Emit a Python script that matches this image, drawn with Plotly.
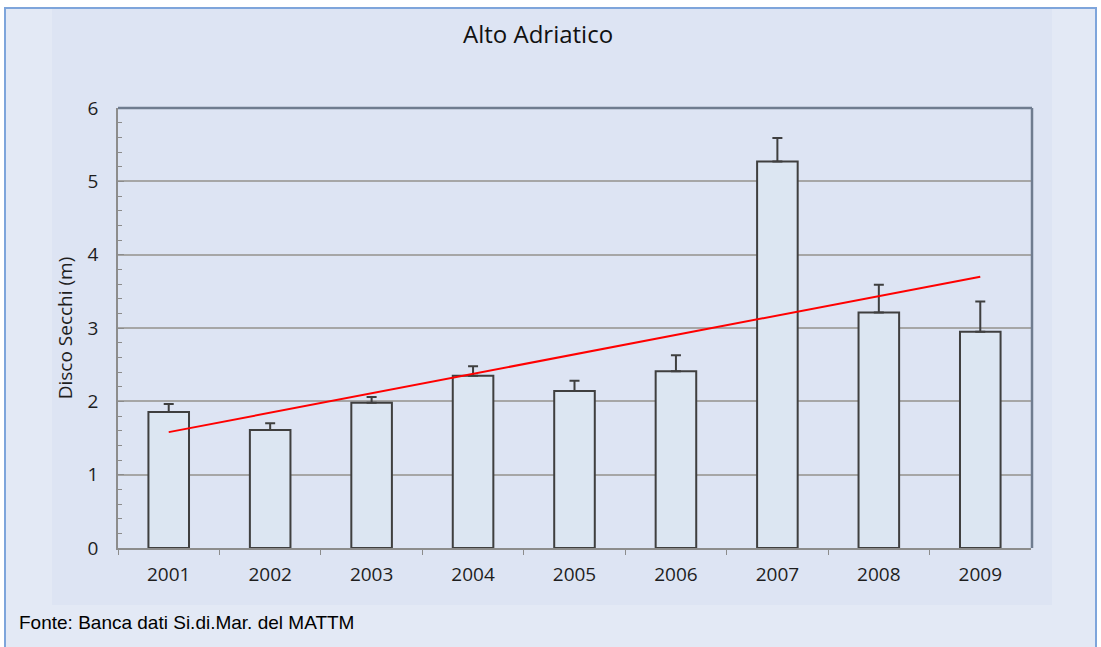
import plotly.graph_objects as go

years = ["2001", "2002", "2003", "2004", "2005", "2006", "2007", "2008", "2009"]
secchi = [1.855, 1.61, 1.98, 2.35, 2.14, 2.41, 5.27, 3.21, 2.95]
err_plus = [0.11, 0.09, 0.08, 0.13, 0.14, 0.22, 0.32, 0.38, 0.41]
trend_x = ["2001", "2009"]
trend_y = [1.58, 3.70]

W, H = 1101, 647

def px(x):
    return x / W

def py(y):
    return 1 - y / H

fig = go.Figure()
fig.add_trace(go.Bar(
    x=years, y=secchi, width=0.4,
    marker=dict(color="#dce6f2", line=dict(color="#3f3f3f", width=2)),
    error_y=dict(type="data", array=err_plus, arrayminus=[0]*len(err_plus), symmetric=False,
                 color="#3f3f3f", thickness=2, width=5),
    showlegend=False, hoverinfo="x+y",
))
fig.add_trace(go.Scatter(
    x=trend_x, y=trend_y, mode="lines",
    line=dict(color="#ff0000", width=2), showlegend=False,
))

shapes = [
    dict(type="rect", xref="paper", yref="paper", x0=px(5), x1=px(1096), y0=py(660), y1=py(8),
         fillcolor="#e3e9f5", line=dict(color="#7ea5db", width=2), layer="below"),
    dict(type="rect", xref="paper", yref="paper", x0=px(52), x1=px(1052), y0=py(605), y1=py(9),
         fillcolor="#dde4f3", line=dict(width=0), layer="below"),
    dict(type="line", xref="paper", yref="paper", x0=px(118), x1=px(1032), y0=py(108), y1=py(108),
         line=dict(color="#6f7c8f", width=2.5), layer="above"),
    dict(type="line", xref="paper", yref="paper", x0=px(1032), x1=px(1032), y0=py(108), y1=py(548),
         line=dict(color="#6f7c8f", width=2.5), layer="above"),
]

tick_font = dict(size=19, family="Open Sans", color="#1e1e1e")

fig.update_layout(
    width=W, height=H,
    margin=dict(l=0, r=0, t=0, b=0, autoexpand=False),
    paper_bgcolor="white", plot_bgcolor="white",
    shapes=shapes,
    font=dict(family="Open Sans", color="#1e1e1e"),
    xaxis=dict(
        domain=[px(118), px(1031)], range=[-0.5, 8.5], type="category",
        showline=True, linecolor="#8c8c8c", linewidth=1.5,
        ticks="outside", tickson="boundaries", ticklen=5, tickcolor="#8c8c8c",
        showgrid=False, tickfont=tick_font,
        ticklabelstandoff=8,
    ),
    yaxis=dict(
        domain=[py(548), py(108)], range=[0, 6], dtick=1,
        showline=True, linecolor="#8c8c8c", linewidth=1.5,
        ticks="inside", ticklen=6, tickcolor="#8c8c8c",
        minor=dict(dtick=0.2, ticks="inside", ticklen=4, tickcolor="#8c8c8c", showgrid=False),
        showgrid=True, gridcolor="#a6a6a6", gridwidth=1.5, zeroline=False,
        tickfont=tick_font,
        ticklabelstandoff=14,
        title=dict(text="Disco Secchi (m)", font=dict(size=19, family="Open Sans", color="#1e1e1e"), standoff=10),
    ),
    annotations=[
        dict(text="Alto Adriatico", xref="paper", yref="paper", x=px(538), y=py(33),
             showarrow=False, font=dict(size=24, family="Open Sans", color="#111111"),
             xanchor="center", yanchor="middle"),
        dict(text="Fonte: Banca dati Si.di.Mar. del MATTM", xref="paper", yref="paper",
             x=px(17), y=py(622), showarrow=False, xanchor="left", yanchor="middle",
             font=dict(size=19, family="Liberation Sans", color="#000000")),
    ],
)

fig.write_html("out.html", config={"displayModeBar": False},
               post_script="document.body.style.margin='0';")
